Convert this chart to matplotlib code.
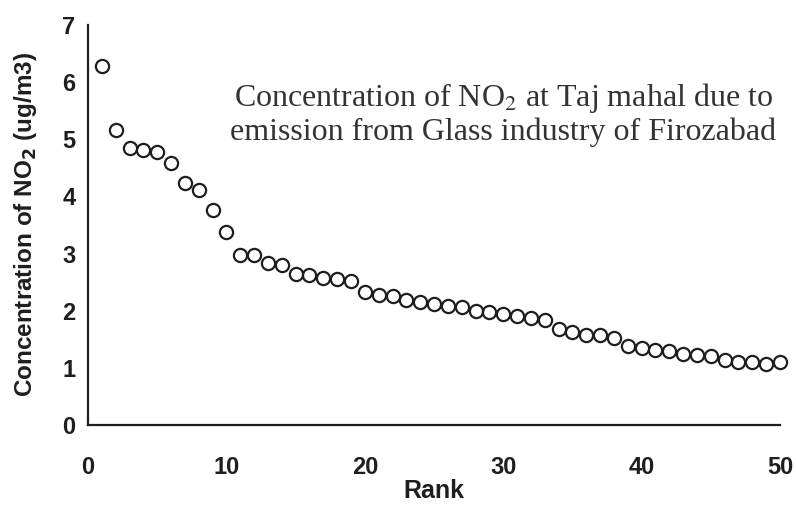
import numpy as np
import matplotlib
matplotlib.use("Agg")
import matplotlib.pyplot as plt

# rank 1..50, NO2 concentration
rank = np.arange(1, 51)
no2 = [6.28, 5.17, 4.84, 4.81, 4.77, 4.58, 4.24, 4.12, 3.77, 3.38,
       2.98, 2.98, 2.84, 2.80, 2.65, 2.63, 2.57, 2.55, 2.52, 2.32,
       2.28, 2.26, 2.19, 2.16, 2.11, 2.08, 2.06, 2.00, 1.97, 1.94,
       1.90, 1.87, 1.84, 1.68, 1.63, 1.58, 1.58, 1.53, 1.38, 1.35,
       1.32, 1.30, 1.24, 1.23, 1.20, 1.14, 1.10, 1.10, 1.07, 1.10]

xticks = [0, 10, 20, 30, 40, 50]
yticks = [0, 1, 2, 3, 4, 5, 6, 7]

ink = "#1e1e1e"
sans = "Liberation Sans"
serif = "Liberation Serif"

fig = plt.figure(figsize=(7.96, 5.07), dpi=100)
ax = fig.add_axes([0.1106, 0.1617, 0.8693, 0.789])

ax.plot(rank, no2, "o", markersize=9.5, markerfacecolor="none",
        markeredgecolor=ink, markeredgewidth=1.6, clip_on=False)

ax.set_xlim(0, 50)
ax.set_ylim(0, 7)
ax.set_xticks(xticks)
ax.set_yticks(yticks)
for s in ["top", "right"]:
    ax.spines[s].set_visible(False)
for s in ["left", "bottom"]:
    ax.spines[s].set_color(ink)
    ax.spines[s].set_linewidth(1.6)
ax.tick_params(axis="both", length=0, colors=ink)
ax.tick_params(axis="x", pad=22)
ax.tick_params(axis="y", pad=9)
for lab in ax.get_xticklabels() + ax.get_yticklabels():
    lab.set_fontfamily(sans)
    lab.set_fontweight("bold")
    lab.set_fontsize(17)

ax.set_xlabel("Rank", fontfamily=sans, fontweight="bold", fontsize=18,
              color=ink, labelpad=0)
ax.set_ylabel(r"Concentration of NO$\mathbf{_2}$ (ug/m3)", fontfamily=sans,
              fontweight="bold", fontsize=17.5, color=ink, labelpad=17,
              math_fontfamily="dejavusans")

ax.text(0.6, 0.778, "Concentration of NO$_2$ at Taj mahal due to\n"
        "emission from Glass industry of Firozabad",
        transform=ax.transAxes, ha="center", va="center", fontfamily=serif,
        fontsize=23, color="#333333", linespacing=1.1,
        math_fontfamily="stix")

fig.savefig("out.png", dpi=100)
